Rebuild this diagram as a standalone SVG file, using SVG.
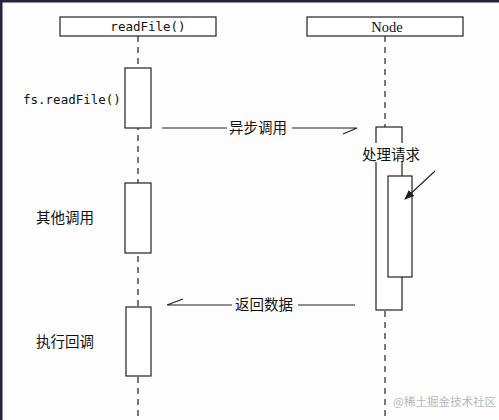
<svg xmlns="http://www.w3.org/2000/svg" width="499" height="420" viewBox="0 0 499 420">
<style>
.box{fill:#fff;stroke:#222;stroke-width:1.2}
.life{stroke:#222;stroke-width:1.2;stroke-dasharray:6 5;fill:none}
.msg{stroke:#222;stroke-width:1.1;fill:none}
.mono{font-family:"DejaVu Sans Mono","Liberation Mono",monospace;font-size:12.5px;fill:#111}
.serif{font-family:"Liberation Serif","Times New Roman",serif;font-size:14.5px;fill:#111}
.cjk{font-family:"Noto Sans CJK SC","Noto Sans",sans-serif;font-size:14.5px;fill:#111}
.wm{font-family:"Noto Sans CJK SC",sans-serif;font-size:11.5px;fill:#b8b8b8}
</style>
<defs>
<marker id="ah" markerWidth="10" markerHeight="8" refX="9" refY="4" orient="auto" markerUnits="userSpaceOnUse">
<path d="M0,0 L10,4 L0,8 Z" fill="#222"/>
</marker>
</defs>
<rect x="0" y="0" width="499" height="420" fill="#fdfdfd"/>
<rect x="0" y="0" width="499" height="2.5" fill="#24243c"/>
<rect x="0" y="0" width="2.5" height="420" fill="#24243c"/>
<g id="lifelines">
<line class="life" x1="138" y1="36" x2="138" y2="420"/>
<line class="life" x1="385" y1="36" x2="385" y2="420"/>
</g>
<g id="readFile">
<rect class="box" x="60" y="17" width="156" height="19"/>
<text class="mono" x="148" y="31" text-anchor="middle">readFile()</text>
</g>
<g id="Node">
<rect class="box" x="307" y="17" width="156" height="19"/>
<text class="serif" x="387" y="32" text-anchor="middle">Node</text>
</g>
<g id="act-fs">
<rect class="box" x="125" y="68" width="26" height="60"/>
<text class="mono" x="23" y="104">fs.readFile()</text>
</g>
<g id="act-other">
<rect class="box" x="125" y="183" width="26" height="70"/>
<text class="cjk" x="36" y="223">其他调用</text>
</g>
<g id="act-callback">
<rect class="box" x="126" y="307" width="25" height="69"/>
<text class="cjk" x="36" y="347">执行回调</text>
</g>
<g id="act-node">
<rect class="box" x="376" y="127" width="26" height="183"/>
<rect x="359" y="143" width="66" height="19" fill="#fdfdfd"/>
<text class="cjk" x="391" y="160" text-anchor="middle">处理请求</text>
</g>
<g id="act-node-inner">
<rect class="box" x="388" y="176" width="24" height="101"/>
</g>
<g id="connectors">
<path class="msg" d="M162,128 H227 M292,128 H357 L343,134"/>
<path class="msg" d="M355,305 H298 M232,305 H167 L183,299"/>
<line class="msg" x1="435" y1="171" x2="405" y2="199" marker-end="url(#ah)"/>
</g>
<g id="msg-labels">
<text class="cjk" x="229" y="133">异步调用</text>
<text class="cjk" x="235" y="310">返回数据</text>
</g>
<text class="wm" x="393" y="406">@稀土掘金技术社区</text>
</svg>
